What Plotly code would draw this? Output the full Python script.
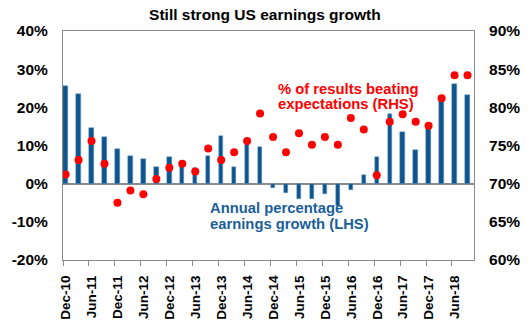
import plotly.graph_objects as go

# Quarterly observations, Dec-10 through Sep-18
quarters = [
    "Dec-10", "Mar-11", "Jun-11", "Sep-11", "Dec-11", "Mar-12", "Jun-12", "Sep-12",
    "Dec-12", "Mar-13", "Jun-13", "Sep-13", "Dec-13", "Mar-14", "Jun-14", "Sep-14",
    "Dec-14", "Mar-15", "Jun-15", "Sep-15", "Dec-15", "Mar-16", "Jun-16", "Sep-16",
    "Dec-16", "Mar-17", "Jun-17", "Sep-17", "Dec-17", "Mar-18", "Jun-18", "Sep-18",
]

# Annual percentage earnings growth (left axis, %)
earnings_growth = [
    25.5, 23.4, 14.6, 12.2, 9.0, 7.2, 6.5, 4.3,
    7.0, 5.2, 4.2, 7.2, 12.5, 4.4, 11.0, 9.6,
    -1.2, -2.5, -3.9, -4.1, -2.8, -5.8, -1.7, 2.2,
    7.1, 18.2, 13.5, 8.8, 15.2, 22.3, 26.1, 23.2,
]

# Share of results beating expectations (right axis, %)
beat_share = [
    71.2, 73.1, 75.6, 72.6, 67.5, 69.1, 68.6, 70.6,
    72.1, 72.6, 71.6, 74.6, 73.1, 74.1, 75.6, 79.2,
    76.1, 74.1, 76.6, 75.1, 76.1, 75.1, 78.6, 77.1,
    71.1, 78.1, 79.1, 78.1, 77.6, 81.2, 84.2, 84.2,
]

# Axis tick labels every second quarter
tick_labels = [
    "Dec-10", "Jun-11", "Dec-11", "Jun-12", "Dec-12", "Jun-13", "Dec-13", "Jun-14",
    "Dec-14", "Jun-15", "Dec-15", "Jun-16", "Dec-16", "Jun-17", "Dec-17", "Jun-18",
]

left_ticks = [-20, -10, 0, 10, 20, 30, 40]
right_ticks = [60, 65, 70, 75, 80, 85, 90]

BLUE = "#0f548c"
TEXT_BLUE = "#1a5e9a"
RED = "#ff0000"
GRID = "#8c8c8c"
FONT = "Liberation Sans"

xpos = list(range(len(quarters)))

fig = go.Figure()
fig.add_trace(go.Bar(
    x=xpos, y=earnings_growth, width=0.34,
    marker=dict(color=BLUE, line=dict(color="#6f9fcc", width=0.5)),
    yaxis="y", hovertext=quarters,
))
fig.add_trace(go.Scatter(
    x=xpos, y=beat_share, mode="markers",
    marker=dict(color=RED, size=8),
    yaxis="y2", hovertext=quarters,
))

fig.update_layout(
    width=532, height=332,
    margin=dict(l=55, r=52, t=31, b=60),
    plot_bgcolor="white", paper_bgcolor="white",
    showlegend=False,
    title=dict(
        text="<b>Still strong US earnings growth</b>",
        x=0.498, xref="container", y=1 - 15 / 332, yref="container",
        xanchor="center", yanchor="middle",
        font=dict(family=FONT, size=15.5, color="black"),
    ),
    xaxis=dict(
        range=[-0.2, 31.5],
        tickvals=[v - 0.2 for v in xpos[::2]], ticktext=tick_labels,
        tickangle=-90, ticks="outside", ticklen=5, tickcolor=GRID,
        ticklabelshift=3, ticklabelstandoff=4,
        tickfont=dict(family=FONT, size=13.5, color="black", weight="bold"),
        showline=True, linecolor=GRID, linewidth=1, mirror=True,
        showgrid=False, zeroline=False,
    ),
    yaxis=dict(
        range=[-20, 40], tickvals=left_ticks,
        ticktext=[f"{v}%" for v in left_ticks],
        ticks="", ticklabelstandoff=11,
        tickfont=dict(family=FONT, size=15.5, color="black", weight="bold"),
        showline=True, linecolor=GRID, linewidth=1,
        showgrid=False, zeroline=True, zerolinecolor=GRID, zerolinewidth=1.5,
    ),
    yaxis2=dict(
        range=[60, 90], tickvals=right_ticks,
        ticktext=[f"{v}%" for v in right_ticks],
        overlaying="y", side="right",
        ticks="", ticklabelstandoff=11,
        tickfont=dict(family=FONT, size=15.5, color="black", weight="bold"),
        showline=True, linecolor=GRID, linewidth=1,
        showgrid=False, zeroline=False,
    ),
    bargap=0,
)

# Series labels placed in left-axis data coordinates
notes = [
    ("% of results beating", 16.3, 24.9, RED),
    ("expectations (RHS)", 16.3, 20.9, RED),
    ("Annual percentage", 11.05, -6.3, TEXT_BLUE),
    ("earnings growth (LHS)", 11.05, -10.5, TEXT_BLUE),
]
for text, x, y, color in notes:
    fig.add_annotation(
        text=f"<b>{text}</b>", x=x, y=y, xref="x", yref="y",
        xanchor="left", yanchor="middle", showarrow=False,
        borderpad=0, font=dict(family=FONT, size=14.8, color=color),
    )

fig.write_html("out.html")
